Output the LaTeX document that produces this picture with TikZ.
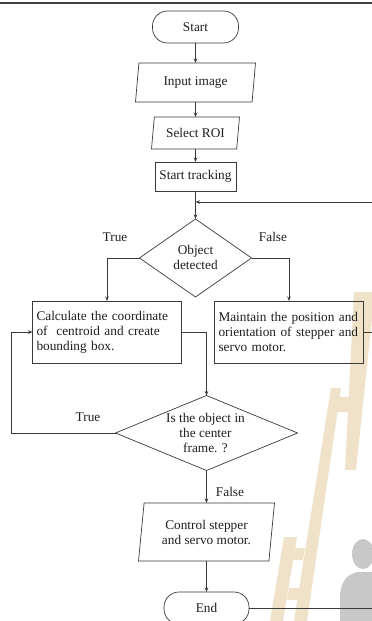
\documentclass[tikz,border=0pt]{standalone}
\usepackage{fontspec}
\setmainfont{Liberation Serif}
\usetikzlibrary{shapes.geometric,arrows.meta}
\definecolor{ink}{HTML}{3A3A3A}
\definecolor{txt}{HTML}{1E1E1E}
\definecolor{ladder}{HTML}{F0E2C8}
\definecolor{figure}{HTML}{C8C8C8}
\begin{document}
\begin{tikzpicture}[x=1pt,y=-1pt,
  every node/.style={font=\fontsize{13.3}{15}\selectfont, text=txt},
  base/.style={draw=ink, line width=0.7pt, outer sep=0pt},
  term/.style={base, rectangle, rounded corners=15pt, minimum width=86pt, minimum height=32pt},
  io/.style={base, trapezium, trapezium left angle=76, trapezium right angle=104,
             trapezium stretches body, inner sep=1pt},
  proc/.style={base, rectangle, minimum height=29pt},
  textbox/.style={base, rectangle, text width=141pt, inner xsep=4pt, inner ysep=0pt,
                  minimum height=62pt, align=left},
  decide/.style={base, diamond, inner sep=0pt},
  caption/.style={inner sep=0pt, align=center},
  flow/.style={draw=ink, line width=0.7pt, -{Stealth[length=4.5pt,width=3.5pt]}},
  link/.style={draw=ink, line width=0.7pt},
  tag/.style={inner sep=0pt}
]
\useasboundingbox (0,0) rectangle (372,621);
\fill[white] (0,0) rectangle (372,621);
\clip (0,0) rectangle (372,621);

% faint background emblem: ladder and figure
\fill[ladder] (354,292) -- (374,292) -- (374,300) -- (356,470) -- (345,470) -- cycle;
\fill[ladder] (331,388) -- (341,388) -- (307,621) -- (294,621) -- cycle;
\fill[ladder] (284,537) -- (297,537) -- (283,621) -- (270,621) -- cycle;
\fill[ladder] (339,397) -- (355,397) -- (353,412) -- (337,412) -- cycle;
\fill[ladder] (295,548) -- (305,548) -- (303,560) -- (293,560) -- cycle;
\fill[ladder] (289,588) -- (300,588) -- (298,600) -- (287,600) -- cycle;
\fill[figure] (363,554) ellipse (11 and 15);
\fill[figure] (340,621) -- (340,598) .. controls (340,582) and (347,574) .. (358,572)
  -- (375,572) -- (375,621) -- cycle;

% header rule
\draw[line width=1.6pt, black!75] (0,3) -- (372,3);

% nodes
\node[term] (start) at (195.5,27) {Start};
\node[io, minimum width=120pt, minimum height=39pt] (input) at (195.5,82.5) {Input image};
\node[io, minimum width=88pt, minimum height=32pt] (roi) at (195.5,133) {Select ROI};
\node[proc, minimum width=81pt] (track) at (195.5,176.5) {Start tracking};

\node[decide, minimum width=112pt, minimum height=78pt] (d1) at (195.5,258) {};
\node[caption] (d1t) at (195.5,257) {Object\\detected};

\node[textbox] (calc) at (107,332)
  {Calculate the coordinate\\of\ \ centroid and create\\bounding box.};
\node[textbox] (maint) at (289,332)
  {Maintain the position and\\orientation of stepper and\\servo motor.};

\node[decide, minimum width=182pt, minimum height=75pt] (d2) at (206.5,433) {};
\node[caption] (d2t) at (205.5,433) {Is the object in\\the center\\frame. ?};

\node[io, trapezium left angle=78, trapezium right angle=102,
      minimum width=136pt, minimum height=58pt, align=center] (ctrl) at (206.5,532)
  {Control stepper\\and servo motor.};
\node[term, minimum width=85pt] (end) at (206.5,608) {End};

% branch labels
\node[tag] (t1) at (115,237) {True};
\node[tag] (f1) at (273,237) {False};
\node[tag] (t2) at (88,417) {True};
\node[tag] (f2) at (230,492) {False};

% connectors
\coordinate (merge) at (195.5,202);
\coordinate (backL) at (11,433);
\coordinate (backR) at (385,332);
\coordinate (exitR) at (385,608);

\draw[flow] (start) -- (input);
\draw[flow] (input) -- (roi);
\draw[flow] (roi) -- (track);
\draw[flow] (track) -- (d1);
\draw[flow] (d1.west) -| (calc.north);
\draw[flow] (d1.east) -| (maint.north);
\draw[flow] (calc.east) -| (d2.north);
\draw[flow] (d2.west) -- (backL) |- (calc.west);
\draw[flow] (d2) -- (ctrl);
\draw[flow] (ctrl) -- (end);
\draw[flow] (maint.east) -- (backR) |- (merge);
\draw[link] (end.east) -- (exitR);
\end{tikzpicture}
\end{document}
